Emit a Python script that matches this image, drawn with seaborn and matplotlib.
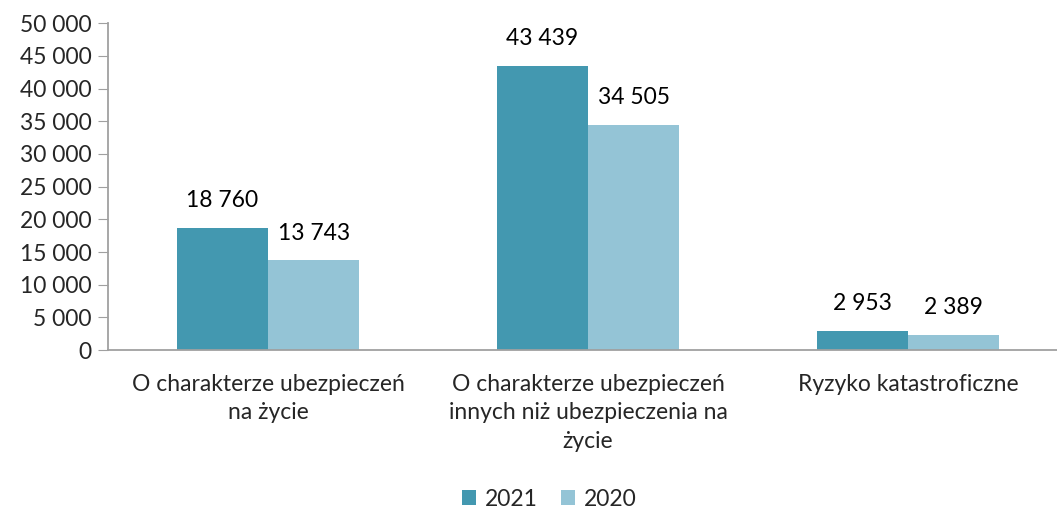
import pandas as pd
import matplotlib
matplotlib.use('Agg')
import matplotlib.pyplot as plt
import seaborn as sns
from matplotlib.ticker import FuncFormatter, FixedLocator

# dane z wykresu
kategorie = ['O charakterze ubezpieczeń\nna życie',
             'O charakterze ubezpieczeń\ninnych niż ubezpieczenia na\nżycie',
             'Ryzyko katastroficzne']
lata = ['2021', '2020']
wartosci_2021 = [18760, 43439, 2953]
wartosci_2020 = [13743, 34505, 2389]
kolory = ['#4398b0', '#94c4d6']


def fmt(v, pos=None):
    return f'{int(v):,}'.replace(',', ' ')


def main():
    df = pd.DataFrame({
        'kategoria': kategorie * 2,
        'rok': [lata[0]] * 3 + [lata[1]] * 3,
        'wartosc': wartosci_2021 + wartosci_2020,
    })

    sns.set_style('white')
    plt.rcParams['font.family'] = ['Lato', 'DejaVu Sans']

    fig = plt.figure(figsize=(10.57, 5.15), dpi=100)
    ax = fig.add_axes([0.1022, 0.320, 0.9082, 0.635])
    sns.barplot(data=df, x='kategoria', y='wartosc', hue='rok',
                palette=kolory, width=0.57, gap=0, saturation=1,
                edgecolor='none', ax=ax)

    # etykiety wartości
    for cont in ax.containers:
        ax.bar_label(cont, labels=[fmt(b.get_height()) for b in cont],
                     padding=12, fontsize=16.5, color='#000000')

    ax.set_ylim(0, 50000)
    ax.set_xlim(-0.5, 2.5)
    ax.yaxis.set_major_locator(FixedLocator(range(0, 50001, 5000)))
    ax.yaxis.set_major_formatter(FuncFormatter(fmt))
    ax.set_xlabel('')
    ax.set_ylabel('')

    ax.xaxis.set_minor_locator(FixedLocator([-0.5, 0.5, 1.5, 2.5]))
    ax.tick_params(axis='x', which='major', length=0, pad=17, labelsize=16.5)
    ax.tick_params(axis='x', which='minor', length=8, color='#a0a0a0', direction='out')
    ax.tick_params(axis='y', length=7, color='#a0a0a0', direction='out',
                   labelsize=16.5, pad=5, left=True)
    for lab in ax.get_xticklabels():
        lab.set_linespacing(1.45)

    for s in ['top', 'right']:
        ax.spines[s].set_visible(False)
    for s in ['left', 'bottom']:
        ax.spines[s].set_color('#a0a0a0')
        ax.spines[s].set_linewidth(1.3)

    ax.legend(loc='lower center', bbox_to_anchor=(0.46, -0.53), ncol=2,
              frameon=False, fontsize=16.5, handlelength=0.6, handleheight=0.6,
              handletextpad=0.4, columnspacing=1.0, borderaxespad=0.2)

    plt.savefig('out.png', dpi=100)


if __name__ == "__main__":
    main()
